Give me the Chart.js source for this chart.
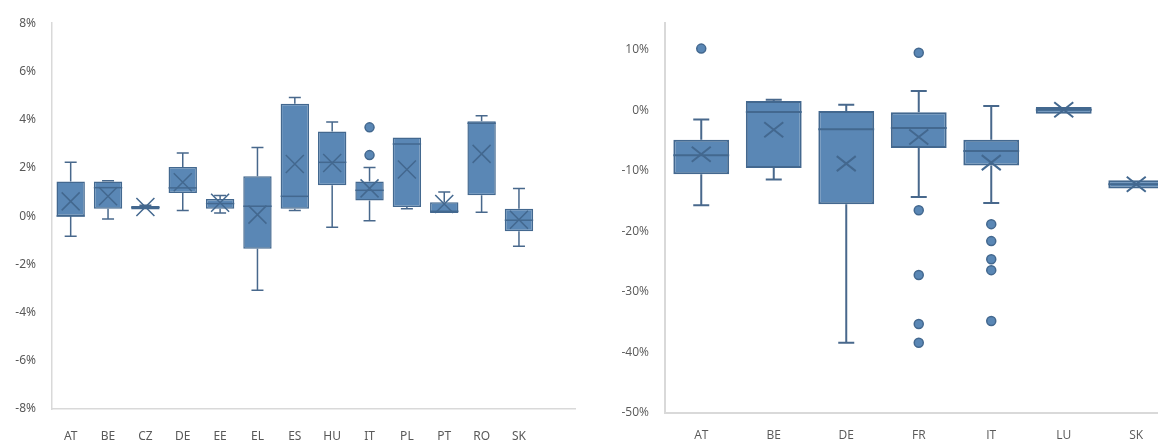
<!DOCTYPE html>
<html>
<head>
<meta charset="utf-8">
<script src="https://cdn.jsdelivr.net/npm/chart.js@4.4.1/dist/chart.umd.min.js"></script>
<style>
  html, body { margin: 0; padding: 0; background: #ffffff; overflow: hidden; }
  #page { position: relative; width: 1158px; height: 443px; overflow: hidden; }
  .panel { position: absolute; top: 0; height: 443px; }
  #leftPanel { left: 0; width: 590px; }
  #rightPanel { left: 590px; width: 590px; }
  #leftPanel canvas { filter: blur(0.45px); }
</style>
</head>
<body>
<div id="page">
  <div class="panel" id="leftPanel"><canvas id="leftChart" width="590" height="443"></canvas></div>
  <div class="panel" id="rightPanel"><canvas id="rightChart" width="590" height="443"></canvas></div>
</div>
<script>
// ---- Left panel: distribution by country (%) ----
const leftCategories = ['AT', 'BE', 'CZ', 'DE', 'EE', 'EL', 'ES', 'HU', 'IT', 'PL', 'PT', 'RO', 'SK'];
const leftWhiskerLow  = [-0.84, -0.12, 0.25, 0.23, 0.13, -3.07, 0.23, -0.46, -0.19, 0.30, 0.13, 0.16, -1.25];
const leftQ1          = [ 0.00,  0.31, 0.27, 0.96, 0.31, -1.35, 0.31,  1.28,  0.65, 0.38, 0.13, 0.86, -0.63];
const leftMedian      = [ 0.00,  1.18, 0.36, 1.17, 0.52,  0.41, 0.82,  2.23,  1.07, 2.99, 0.20, 3.85, -0.17];
const leftQ3          = [ 1.44,  1.44, 0.42, 2.04, 0.71,  1.65, 4.66,  3.51,  1.44, 3.26, 0.57, 3.93,  0.30];
const leftWhiskerHigh = [ 2.23,  1.47, 0.45, 2.62, 0.85,  2.85, 4.92,  3.90,  2.02, 3.26, 1.00, 4.16,  1.14];
const leftMean        = [ 0.61,  0.82, 0.38, 1.40, 0.55,  0.06, 2.16,  2.20,  1.15, 1.93, 0.50, 2.58, -0.15];
const leftOutlierCats = ['IT', 'IT'];
const leftOutlierVals = [3.68, 2.53];
const leftTicks = { min: -8, max: 8, step: 2 };

// ---- Right panel: distribution by country (%) ----
const rightCategories = ['AT', 'BE', 'DE', 'FR', 'IT', 'LU', 'SK'];
const rightWhiskerLow  = [-15.68, -11.44, -38.4, -14.3, -15.3, -0.55, -12.92];
const rightQ1          = [-10.56,  -9.52, -15.5,  -6.22, -9.13, -0.55, -12.92];
const rightMedian      = [ -7.43,  -0.28,  -3.14, -2.92, -6.72,  0.10, -12.20];
const rightQ3          = [ -4.84,   1.54,  -0.12, -0.33, -4.84,  0.55, -11.55];
const rightWhiskerHigh = [ -1.49,   1.76,   0.94,  3.19,  0.71,  0.55, -11.55];
const rightMean        = [ -7.26,  -3.19,  -8.80, -4.40, -8.63,  0.10, -12.20];
const rightOutlierCats = ['AT', 'FR', 'FR', 'FR', 'FR', 'FR', 'IT', 'IT', 'IT', 'IT', 'IT'];
const rightOutlierVals = [10.2, 9.52, -16.5, -27.2, -35.3, -38.4, -18.8, -21.6, -24.6, -26.4, -34.8];
const rightTicks = { min: -50, max: 14.4, step: 10 };

const BOX_FILL = 'rgb(90,135,181)';
const BOX_EDGE = 'rgb(67,104,143)';
const WHISKER = 'rgb(72,104,140)';
const LABEL_GREY = '#595959';

// Whiskers, caps, median lines and mean crosses drawn on top of the floating bars
function boxDecorations(stats, look) {
  return {
    id: 'boxDecorations',
    beforeDatasetsDraw(chart) {
      const ctx = chart.ctx;
      const ys = chart.scales.y;
      const meta = chart.getDatasetMeta(0);
      ctx.save();
      ctx.strokeStyle = WHISKER;
      ctx.lineWidth = look.whiskerWidth;
      meta.data.forEach((bar, i) => {
        const x = bar.x;
        const yHigh = ys.getPixelForValue(stats.high[i]);
        const yQ3 = ys.getPixelForValue(stats.q3[i]);
        const yQ1 = ys.getPixelForValue(stats.q1[i]);
        const yLow = ys.getPixelForValue(stats.low[i]);
        ctx.beginPath();
        if (yQ3 - yHigh > 0.5) {
          ctx.moveTo(x, yQ3); ctx.lineTo(x, yHigh);
          ctx.moveTo(x - look.capHalf, yHigh); ctx.lineTo(x + look.capHalf, yHigh);
        }
        if (yLow - yQ1 > 0.5) {
          ctx.moveTo(x, yQ1); ctx.lineTo(x, yLow);
          ctx.moveTo(x - look.capHalf, yLow); ctx.lineTo(x + look.capHalf, yLow);
        }
        ctx.stroke();
      });
      ctx.restore();
    },
    afterDatasetsDraw(chart) {
      const ctx = chart.ctx;
      const ys = chart.scales.y;
      const meta = chart.getDatasetMeta(0);
      ctx.save();
      ctx.strokeStyle = BOX_EDGE;
      meta.data.forEach((bar, i) => {
        const x = bar.x;
        const half = bar.width / 2;
        const yMed = ys.getPixelForValue(stats.median[i]);
        ctx.lineWidth = look.medianWidth;
        ctx.beginPath();
        ctx.moveTo(x - half, yMed); ctx.lineTo(x + half, yMed);
        ctx.stroke();
        const yMean = ys.getPixelForValue(stats.mean[i]);
        ctx.lineWidth = look.crossWidth;
        ctx.beginPath();
        ctx.moveTo(x - look.crossW, yMean - look.crossH);
        ctx.lineTo(x + look.crossW, yMean + look.crossH);
        ctx.moveTo(x - look.crossW, yMean + look.crossH);
        ctx.lineTo(x + look.crossW, yMean - look.crossH);
        ctx.stroke();
      });
      ctx.restore();
    }
  };
}

function buildBoxChart(canvasId, cfg) {
  const boxes = cfg.q1.map((v, i) => [v, cfg.q3[i]]);
  const outliers = cfg.outlierCats.map((c, i) => ({ x: c, y: cfg.outlierVals[i] }));
  return new Chart(document.getElementById(canvasId), {
    type: 'bar',
    data: {
      labels: cfg.labels,
      datasets: [
        {
          type: 'bar',
          data: boxes,
          backgroundColor: BOX_FILL,
          borderColor: BOX_EDGE,
          borderWidth: cfg.look.boxEdge,
          borderSkipped: false,
          barPercentage: cfg.look.barPct,
          categoryPercentage: 1,
          order: 2
        },
        {
          type: 'scatter',
          data: outliers,
          pointStyle: 'circle',
          pointRadius: cfg.look.dotRadius,
          backgroundColor: BOX_FILL,
          borderColor: BOX_EDGE,
          borderWidth: 1.5,
          order: 1
        }
      ]
    },
    options: {
      responsive: false,
      animation: false,
      events: [],
      layout: { padding: cfg.padding },
      plugins: { legend: { display: false }, tooltip: { enabled: false } },
      scales: {
        x: {
          type: 'category',
          offset: true,
          grid: { display: false, drawTicks: false },
          border: { display: true, color: cfg.look.axisColor, width: cfg.look.axisWidth },
          ticks: {
            color: LABEL_GREY,
            font: { family: cfg.look.font, size: 12 },
            padding: cfg.look.xPad,
            maxRotation: 0,
            autoSkip: false
          },
          afterFit(s) { s.height = cfg.xHeight; }
        },
        y: {
          min: cfg.ticks.min,
          max: cfg.ticks.max,
          grid: { display: false, drawTicks: false },
          border: { display: true, color: cfg.look.axisColor, width: cfg.look.axisWidth },
          ticks: {
            stepSize: cfg.ticks.step,
            color: LABEL_GREY,
            font: { family: cfg.look.font, size: 12 },
            padding: cfg.look.yPad,
            callback: (v) => (Math.abs(v % cfg.ticks.step) < 1e-9 ? v + '%' : '')
          },
          afterFit(s) { s.width = cfg.yWidth; }
        }
      }
    },
    plugins: [boxDecorations(
      { low: cfg.low, q1: cfg.q1, median: cfg.median, q3: cfg.q3, high: cfg.high, mean: cfg.mean },
      cfg.look
    )]
  });
}

buildBoxChart('leftChart', {
  labels: leftCategories.concat(['']),
  low: leftWhiskerLow, q1: leftQ1, median: leftMedian, q3: leftQ3, high: leftWhiskerHigh, mean: leftMean,
  outlierCats: leftOutlierCats, outlierVals: leftOutlierVals,
  ticks: leftTicks,
  padding: { top: 23, right: 15, left: 0, bottom: 0 },
  yWidth: 52,
  xHeight: 34,
  look: {
    font: "'Noto Sans', sans-serif", xPad: 20, yPad: 16,
    axisColor: '#d9d9d9', axisWidth: 1.5,
    barPct: 0.76, boxEdge: 1.5, dotRadius: 4.5,
    whiskerWidth: 1.5, capHalf: 6, medianWidth: 1.5,
    crossWidth: 1.5, crossW: 9, crossH: 9
  }
});

buildBoxChart('rightChart', {
  labels: rightCategories,
  low: rightWhiskerLow, q1: rightQ1, median: rightMedian, q3: rightQ3, high: rightWhiskerHigh, mean: rightMean,
  outlierCats: rightOutlierCats, outlierVals: rightOutlierVals,
  ticks: rightTicks,
  padding: { top: 23, right: 7.5, left: 0, bottom: 0 },
  yWidth: 75,
  xHeight: 30,
  look: {
    font: "'Open Sans', sans-serif", xPad: 15, yPad: 16,
    axisColor: '#d9d9d9', axisWidth: 2,
    barPct: 0.77, boxEdge: 2, dotRadius: 4.5,
    whiskerWidth: 2, capHalf: 8, medianWidth: 2,
    crossWidth: 2, crossW: 9.5, crossH: 7.5
  }
});
</script>
</body>
</html>
